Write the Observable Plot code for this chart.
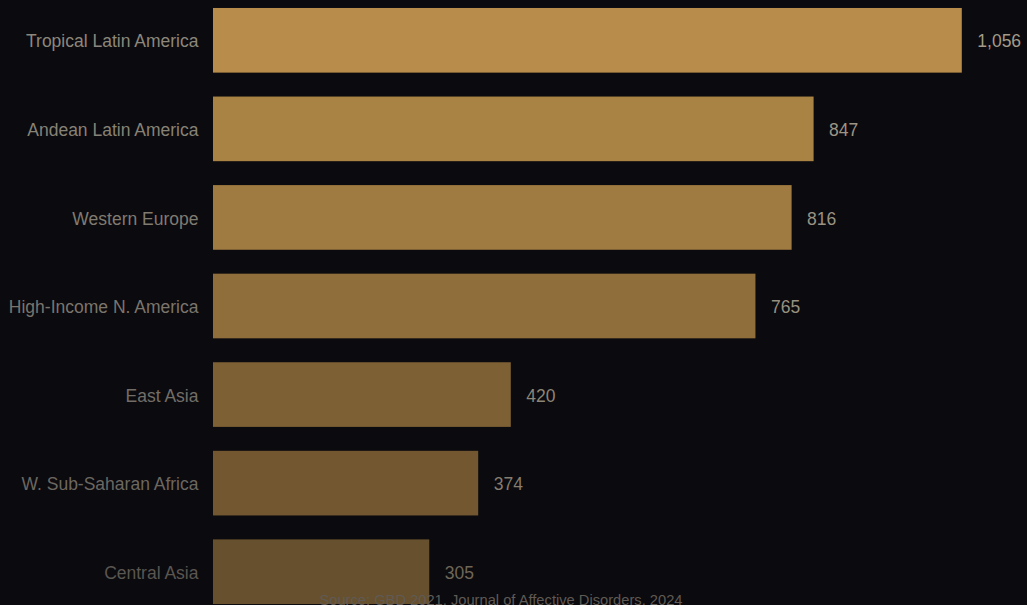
<!DOCTYPE html>
<html>
<head>
<meta charset="utf-8">
<script src="https://cdn.jsdelivr.net/npm/d3@7"></script>
<script src="https://cdn.jsdelivr.net/npm/@observablehq/plot@0.6"></script>
<style>
  html, body { margin: 0; padding: 0; background: #0b0a0e; overflow: hidden; }
  body { width: 1027px; height: 605px; position: relative; font-family: "Liberation Sans", Arial, sans-serif; }
  #chart svg { display: block; }
  #caption { position: absolute; left: 0; top: 592px; width: 1002px; text-align: center; font-size: 14.7px; color: #5f5a55; }
</style>
</head>
<body>
<div id="chart"></div>
<div id="caption">Source: GBD 2021, Journal of Affective Disorders, 2024</div>
<script>
const regions = ["Tropical Latin America", "Andean Latin America", "Western Europe", "High-Income N. America", "East Asia", "W. Sub-Saharan Africa", "Central Asia"];
const values = [1056, 847, 816, 765, 420, 374, 305];
const barColors = ["#b88c4a", "#a98343", "#a07b41", "#8f6e3b", "#7d6034", "#725731", "#67502d"];
const labelColors = ["#8c877c", "#878276", "#807b71", "#7a756c", "#726e67", "#6b6761", "#5a5651"];
const valueColors = ["#a39b89", "#9d9585", "#9a9282", "#979080", "#8d8576", "#857d6f", "#6e6658"];

const data = regions.map((r, i) => ({region: r, value: values[i], bar: barColors[i], lab: labelColors[i], val: valueColors[i]}));

const chart = Plot.plot({
  width: 1027,
  height: 612,
  marginLeft: 213,
  marginRight: 34,
  marginTop: 0,
  marginBottom: 0,
  style: {background: "#0b0a0e", fontFamily: "Liberation Sans, Arial, sans-serif", fontSize: "17.5px"},
  x: {domain: [0, 1100], axis: null},
  y: {domain: regions, paddingInner: 0.27, paddingOuter: 0.09, round: false, axis: null},
  marks: [
    Plot.barX(data, {y: "region", x: "value", fill: "bar"}),
    Plot.text(data, {y: "region", x: 0, text: "region", textAnchor: "end", dx: -15, dy: 1, fill: "lab", fontSize: 17.5}),
    Plot.text(data, {y: "region", x: "value", text: d => d3.format(",")(d.value), textAnchor: "start", dx: 15, dy: 1, fill: "val", fontSize: 17.5})
  ]
});
document.getElementById("chart").appendChild(chart);
</script>
</body>
</html>
